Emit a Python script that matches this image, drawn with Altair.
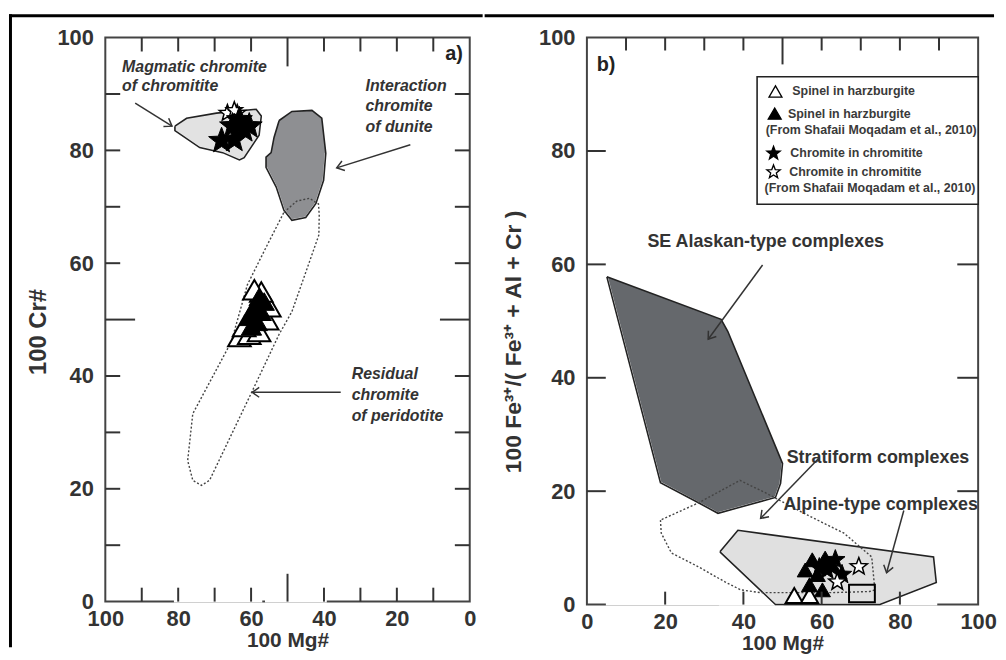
import math
import altair as alt
import pandas as pd

FONT = "Liberation Sans"
INK = "#333333"

# ---------------- panel a : 100 Cr# vs 100 Mg# ----------------
a_mag_x = [80.9, 77.7, 69.5, 58.6, 57.2, 57.8, 61.9, 63.2, 67.8, 74.1, 80.9, 80.9]
a_mag_y = [84.3, 85.7, 86.6, 87.3, 86.1, 82.7, 78.7, 78.3, 79.6, 80.5, 83.5, 84.3]
a_dun_x = [52.3, 48.8, 43.3, 40.6, 39.5, 40.1, 42.2, 45.0, 48.8, 51.0, 53.1, 55.9, 55.9, 54.5, 53.7, 52.3]
a_dun_y = [85.3, 86.9, 87.1, 85.7, 79.5, 74.7, 70.6, 68.1, 67.6, 69.4, 73.5, 77.0, 78.8, 79.6, 82.3, 85.3]
a_res_x = [51.0, 47.5, 44.0, 41.5, 41.3, 41.4, 48.8, 52.3, 59.7, 71.4, 73.6, 76.0, 77.4, 76.0, 65.4, 61.0, 55.9, 51.0]
a_res_y = [69.0, 71.0, 71.5, 70.5, 68.5, 65.0, 51.4, 47.4, 37.3, 21.5, 20.6, 21.5, 25.0, 33.3, 46.1, 56.2, 62.8, 69.0]
a_mag_up_x = [80.9, 77.7, 69.5, 58.6, 57.2]
a_mag_up_y = [84.3, 85.7, 86.6, 87.3, 86.1]
a_mag_lo_x = [80.9, 74.1, 67.8, 63.2, 61.9, 57.8, 57.2]
a_mag_lo_y = [83.5, 80.5, 79.6, 78.3, 78.7, 82.7, 86.1]
a_dun_up_x = [39.5, 40.6, 43.3, 48.8, 52.3, 53.7, 54.5, 55.9]
a_dun_up_y = [79.5, 85.7, 87.1, 86.9, 85.3, 82.3, 79.6, 78.8]
a_dun_lo_x = [39.5, 40.1, 42.2, 45.0, 48.8, 51.0, 53.1, 55.9]
a_dun_lo_y = [79.5, 74.7, 70.6, 68.1, 67.6, 69.4, 73.5, 77.0]

a_star_x = [68.1, 64.6, 61.9, 65.1, 60.5, 63.2]
a_star_y = [81.7, 81.9, 83.6, 84.3, 84.3, 85.4]
a_ostar_x = [66.5, 63.8, 64.6]
a_ostar_y = [86.6, 86.6, 87.1]
a_otri_x = [63.2, 60.5, 57.8, 61.9, 55.6, 55.0, 57.2, 59.1]
a_otri_y = [47.0, 47.4, 47.9, 48.8, 50.0, 52.3, 54.9, 55.3]
a_ftri_x = [57.8, 59.1, 57.2, 60.5, 58.3, 56.4, 59.9]
a_ftri_y = [54.0, 52.3, 51.4, 50.5, 49.6, 53.2, 48.8]

a_arrow_x1 = [91.8, 16.3, 35.4]
a_arrow_y1 = [88.4, 81.0, 37.1]
a_arrow_x2 = [81.7, 36.5, 59.7]
a_arrow_y2 = [84.3, 76.9, 37.1]

a_text = ["Magmatic chromite", "of chromitite", "Interaction", "chromite", "of dunite",
          "Residual", "chromite", "of peridotite"]
a_text_x = [95.4, 95.4, 28.6, 28.6, 28.6, 32.4, 32.4, 32.4]
a_text_y = [94.7, 91.4, 91.4, 87.9, 84.2, 40.3, 36.6, 32.9]

a_xlabels = [100, 80, 60, 40, 20, 0]
a_ylabels = [0, 20, 40, 60, 80, 100]
a_ticks_short = [10, 20, 30, 40, 60, 70, 80, 90]
a_ticks_long = [50]

# ---------------- panel b : Fe3+ ratio vs 100 Mg# ----------------
b_ala_x = [5.1, 34.3, 36.0, 50.0, 49.5, 48.2, 33.5, 28.4, 18.8, 5.1]
b_ala_y = [57.8, 50.3, 48.2, 24.9, 21.4, 18.9, 16.1, 18.0, 21.5, 57.8]
b_alp_x = [34.0, 38.6, 88.6, 89.3, 74.9, 48.2, 34.0]
b_alp_y = [9.3, 13.1, 8.4, 3.9, 0.0, 0.0, 9.3]
b_str_x = [18.8, 19.0, 21.6, 28.4, 35.3, 39.3, 44.4, 62.2, 72.3, 73.6, 72.8, 65.7, 56.3, 45.4, 39.1, 28.4, 18.8]
b_str_y = [14.9, 12.6, 9.1, 6.7, 4.0, 2.6, 2.1, 2.1, 2.3, 2.6, 8.4, 12.6, 15.8, 19.8, 21.9, 17.9, 14.9]
b_ala_up_x = [5.1, 34.3, 36.0, 50.0]
b_ala_up_y = [57.8, 50.3, 48.2, 24.9]
b_ala_lo_x = [5.1, 18.8, 28.4, 33.5, 48.2, 49.5, 50.0]
b_ala_lo_y = [57.8, 21.5, 18.0, 16.1, 18.9, 21.4, 24.9]
b_alp_up_x = [34.0, 38.6, 88.6, 89.3]
b_alp_up_y = [9.3, 13.1, 8.4, 3.9]
b_alp_lo_x = [34.0, 48.2, 74.9, 89.3]
b_alp_lo_y = [9.3, 0.0, 0.0, 3.9]

b_ftri_x = [55.8, 57.6, 60.9, 58.9, 56.9, 60.2, 62.7]
b_ftri_y = [6.1, 7.9, 8.2, 5.3, 3.5, 2.6, 7.0]
b_star_x = [63.5, 61.4, 65.2, 59.4]
b_star_y = [7.9, 6.1, 5.3, 6.5]
b_ostar_x = [69.5, 64.0]
b_ostar_y = [6.7, 4.0]
b_otri_x = [53.0, 56.9]
b_otri_y = [1.6, 1.6]
b_rect_x1 = [67.0]
b_rect_x2 = [73.6]
b_rect_y1 = [0.4]
b_rect_y2 = [3.5]

b_arrow_x1 = [44.9, 59.4, 81.0]
b_arrow_y1 = [59.9, 25.9, 16.6]
b_arrow_x2 = [31.0, 44.4, 76.6]
b_arrow_y2 = [46.8, 15.2, 5.6]

b_text = ["SE Alaskan-type complexes", "Stratiform complexes", "Alpine-type complexes"]
b_text_x = [45.7, 74.4, 75.1]
b_text_y = [63.9, 25.9, 17.5]

leg_box_x1, leg_box_x2, leg_box_y1, leg_box_y2 = [43.5], [100.0], [70.6], [93.1]
leg_sym_kind = ["otri", "ftri", "fstar", "ostar"]
leg_sym_x = [48.2, 48.0, 47.7, 47.7]
leg_sym_y = [90.5, 86.6, 79.6, 76.3]
leg_text = ["Spinel in harzburgite", "Spinel in harzburgite", "(From Shafaii Moqadam et al., 2010)",
            "Chromite in chromitite", "Chromite in chromitite", "(From Shafaii Moqadam et al., 2010)"]
leg_text_x = [52.5, 51.4, 45.7, 52.0, 51.7, 45.4]
leg_text_y = [90.5, 86.6, 83.7, 79.6, 76.3, 73.4]

b_labels = [0, 20, 40, 60, 80, 100]
b_top_short = [10, 20, 30, 40, 60, 70, 80, 90]
b_top_long = [50]
b_side_ticks = [20, 40, 60, 80]

W_A, H_A = 367, 568
W_B, H_B = 394, 571

# symbol outlines (unit coordinates)
_star_pts = []
for k in range(10):
    r = 1.0 if k % 2 == 0 else 0.42
    t = math.radians(-90 + 36 * k)
    _star_pts.append(f"{r * math.cos(t):.3f} {r * math.sin(t):.3f}")
STAR = "M " + " L ".join(_star_pts) + " Z"
CHEVRON = "M -1 -0.7 L 0 0 L -1 0.7"


def poly(xs, ys):
    return pd.DataFrame({"x": xs, "y": ys, "i": list(range(len(xs)))})


def pts(xs, ys):
    return pd.DataFrame({"x": xs, "y": ys})


def arrows(x1, y1, x2, y2, sx, sy):
    ang = []
    for a, b, c, d in zip(x1, y1, x2, y2):
        dx = (c - a) * sx
        dy = (d - b) * sy
        ang.append(math.degrees(math.atan2(dy, dx)) % 360)
    return pd.DataFrame({"x": x1, "y": y1, "x2": x2, "y2": y2, "ang": ang})


axis_common = dict(ticks=False, domain=False, grid=False, labelFlush=False, labelOverlap=False,
                   labelFont=FONT, labelFontSize=22, labelFontWeight="bold", labelColor=INK,
                   titleFont=FONT, titleFontWeight="bold", titleColor=INK)

tk = dict(stroke="#333", strokeWidth=2)


def fill_layers(X, Y, H, upx, upy, lox, loy, color):
    return [
        alt.Chart(pts(upx, upy)).mark_area(color=color, opacity=1)
        .encode(x=X(), y=Y(), y2=alt.value(H - 3)),
        alt.Chart(pts(lox, loy)).mark_area(color="white", stroke="white", strokeWidth=2, opacity=1)
        .encode(x=X(), y=Y(), y2=alt.value(H - 3)),
    ]


def outline(X, Y, xs, ys, dotted=False):
    if dotted:
        m = alt.Chart(poly(xs, ys)).mark_line(stroke="#444", strokeWidth=1.4, strokeDash=[2, 2])
    else:
        m = alt.Chart(poly(xs, ys)).mark_line(stroke="#222", strokeWidth=1.6)
    return m.encode(x=X(), y=Y(), order="i:Q")


def points(X, Y, xs, ys, shape, fill, size, sw):
    return alt.Chart(pts(xs, ys)).mark_point(shape=shape, filled=True, fill=fill, stroke="black",
                                             strokeWidth=sw, size=size, opacity=1).encode(x=X(), y=Y())


def arrow_layers(X, Y, df):
    return [
        alt.Chart(df).mark_rule(stroke=INK, strokeWidth=1.5).encode(x=X(), y=Y(), x2="x2:Q", y2="y2:Q"),
        alt.Chart(df).mark_point(shape=CHEVRON, filled=False, stroke=INK, strokeWidth=1.5,
                                 size=200, opacity=1)
        .encode(x=X("x2"), y=Y("y2"), angle=alt.Angle("ang:Q", scale=None)),
    ]


def frame_bar(x1, x2, y1, y2):
    return (alt.Chart(pd.DataFrame({"k": [0]})).mark_rect(fill="black")
            .encode(x=alt.value(x1), x2=alt.value(x2), y=alt.value(y1), y2=alt.value(y2)))


# ---------- panel a ----------
xa = alt.Scale(domain=[100, 0], nice=False, zero=False)
ya = alt.Scale(domain=[0, 100], nice=False, zero=False)
ax_xa = alt.Axis(values=a_xlabels, labelPadding=7, titlePadding=0, titleFontSize=21, **axis_common)
ax_ya = alt.Axis(values=a_ylabels, labelPadding=12, titleFontSize=24, titleX=-67, titleY=296,
                 titleAngle=270, titleAlign="center", titleBaseline="middle", **axis_common)


def XA(f="x"):
    return alt.X(f"{f}:Q", scale=xa, axis=ax_xa, title="100 Mg#")


def YA(f="y"):
    return alt.Y(f"{f}:Q", scale=ya, axis=ax_ya, title="100 Cr#")


a_layers = []
a_layers += fill_layers(XA, YA, H_A, a_mag_up_x, a_mag_up_y, a_mag_lo_x, a_mag_lo_y, "#e2e2e2")
a_layers += fill_layers(XA, YA, H_A, a_dun_up_x, a_dun_up_y, a_dun_lo_x, a_dun_lo_y, "#8e8f92")
a_layers.append(outline(XA, YA, a_mag_x, a_mag_y))
a_layers.append(outline(XA, YA, a_dun_x, a_dun_y))
a_layers.append(outline(XA, YA, a_res_x, a_res_y, dotted=True))
a_layers.append(points(XA, YA, a_otri_x, a_otri_y, "triangle-up", "white", 520, 2))
a_layers.append(points(XA, YA, a_ftri_x, a_ftri_y, "triangle-up", "black", 420, 1))
a_layers.append(points(XA, YA, a_ostar_x, a_ostar_y, STAR, "white", 300, 1.5))
a_layers.append(points(XA, YA, a_star_x, a_star_y, STAR, "black", 750, 1))
a_layers += arrow_layers(XA, YA, arrows(a_arrow_x1, a_arrow_y1, a_arrow_x2, a_arrow_y2, -W_A / 100, -H_A / 100))
a_layers.append(alt.Chart(pd.DataFrame({"x": a_text_x, "y": a_text_y, "t": a_text})).mark_text(
    font=FONT, fontSize=16, fontWeight="bold", fontStyle="italic", align="left", baseline="middle", color=INK)
    .encode(x=XA(), y=YA(), text="t:N"))
a_layers.append(alt.Chart(pd.DataFrame({"x": [1.9], "y": [97.0], "t": ["a)"]})).mark_text(
    font=FONT, fontSize=20, fontWeight="bold", align="right", baseline="middle", color="#222")
    .encode(x=XA(), y=YA(), text="t:N"))
a_layers.append(alt.Chart(pd.DataFrame({"x": a_ticks_short})).mark_rule(**tk)
                .encode(x=XA(), y=alt.value(0), y2=alt.value(14)))
a_layers.append(alt.Chart(pd.DataFrame({"x": a_ticks_short})).mark_rule(**tk)
                .encode(x=XA(), y=alt.value(H_A), y2=alt.value(H_A - 14)))
a_layers.append(alt.Chart(pd.DataFrame({"x": a_ticks_long})).mark_rule(**tk)
                .encode(x=XA(), y=alt.value(0), y2=alt.value(29)))
a_layers.append(alt.Chart(pd.DataFrame({"x": a_ticks_long})).mark_rule(**tk)
                .encode(x=XA(), y=alt.value(H_A), y2=alt.value(H_A - 28)))
a_layers.append(alt.Chart(pd.DataFrame({"y": a_ticks_short})).mark_rule(**tk)
                .encode(y=YA(), x=alt.value(0), x2=alt.value(15)))
a_layers.append(alt.Chart(pd.DataFrame({"y": a_ticks_short})).mark_rule(**tk)
                .encode(y=YA(), x=alt.value(W_A), x2=alt.value(W_A - 15)))
a_layers.append(alt.Chart(pd.DataFrame({"y": a_ticks_long})).mark_rule(**tk)
                .encode(y=YA(), x=alt.value(0), x2=alt.value(30)))
a_layers.append(alt.Chart(pd.DataFrame({"y": a_ticks_long})).mark_rule(**tk)
                .encode(y=YA(), x=alt.value(W_A), x2=alt.value(W_A - 30)))
# outer figure frame (left edge, left part of top edge)
a_layers.append(frame_bar(-97, -94, -23.5, 614))
a_layers.append(frame_bar(-97, 380, -23.5, -20.5))

panel_a = alt.layer(*a_layers).properties(width=W_A, height=H_A)

# ---------- panel b ----------
xb = alt.Scale(domain=[0, 100], nice=False, zero=False)
yb = alt.Scale(domain=[0, 100], nice=False, zero=False)
ax_xb = alt.Axis(values=b_labels, labelPadding=7, titlePadding=0, titleFontSize=21, **axis_common)
ax_yb = alt.Axis(values=b_labels, labelPadding=12, titleFontSize=23, titleX=-74, titleY=306,
                 titleAngle=270, titleAlign="center", titleBaseline="middle", **axis_common)


def XB(f="x"):
    return alt.X(f"{f}:Q", scale=xb, axis=ax_xb, title="100 Mg#")


def YB(f="y"):
    return alt.Y(f"{f}:Q", scale=yb, axis=ax_yb, title="100 Fe³⁺/( Fe³⁺ + Al + Cr )")


b_layers = []
b_layers += fill_layers(XB, YB, H_B, b_ala_up_x, b_ala_up_y, b_ala_lo_x, b_ala_lo_y, "#65686c")
b_layers += fill_layers(XB, YB, H_B, b_alp_up_x, b_alp_up_y, b_alp_lo_x, b_alp_lo_y, "#e0e0e0")
b_layers.append(outline(XB, YB, b_alp_x, b_alp_y))
b_layers.append(outline(XB, YB, b_ala_x, b_ala_y))
b_layers.append(outline(XB, YB, b_str_x, b_str_y, dotted=True))
b_layers.append(alt.Chart(pd.DataFrame({"x": b_rect_x1, "x2": b_rect_x2, "y": b_rect_y1, "y2": b_rect_y2}))
                .mark_rect(fill="white", fillOpacity=0, stroke="black", strokeWidth=2)
                .encode(x=XB(), x2="x2:Q", y=YB(), y2="y2:Q"))
b_layers.append(points(XB, YB, b_otri_x, b_otri_y, "triangle-up", "white", 300, 2))
b_layers.append(points(XB, YB, b_ftri_x, b_ftri_y, "triangle-up", "black", 260, 1))
b_layers.append(points(XB, YB, b_star_x, b_star_y, STAR, "black", 420, 1))
b_layers.append(points(XB, YB, b_ostar_x, b_ostar_y, STAR, "white", 330, 1.5))
b_layers += arrow_layers(XB, YB, arrows(b_arrow_x1, b_arrow_y1, b_arrow_x2, b_arrow_y2, W_B / 100, -H_B / 100))
b_layers.append(alt.Chart(pd.DataFrame({"x": b_text_x, "y": b_text_y, "t": b_text})).mark_text(
    font=FONT, fontSize=18, fontWeight="bold", align="center", baseline="middle", color=INK)
    .encode(x=XB(), y=YB(), text="t:N"))
b_layers.append(alt.Chart(pd.DataFrame({"x": [2.5], "y": [95.1], "t": ["b)"]})).mark_text(
    font=FONT, fontSize=20, fontWeight="bold", align="left", baseline="middle", color="#222")
    .encode(x=XB(), y=YB(), text="t:N"))
b_layers.append(alt.Chart(pd.DataFrame({"x": b_top_short})).mark_rule(**tk)
                .encode(x=XB(), y=alt.value(0), y2=alt.value(13)))
b_layers.append(alt.Chart(pd.DataFrame({"x": b_top_long})).mark_rule(**tk)
                .encode(x=XB(), y=alt.value(0), y2=alt.value(27)))
b_layers.append(alt.Chart(pd.DataFrame({"x": b_side_ticks})).mark_rule(**tk)
                .encode(x=XB(), y=alt.value(H_B), y2=alt.value(H_B - 13)))
b_layers.append(alt.Chart(pd.DataFrame({"y": b_side_ticks})).mark_rule(**tk)
                .encode(y=YB(), x=alt.value(0), x2=alt.value(19)))
b_layers.append(alt.Chart(pd.DataFrame({"y": b_side_ticks})).mark_rule(**tk)
                .encode(y=YB(), x=alt.value(W_B), x2=alt.value(W_B - 21)))
b_layers.append(alt.Chart(pd.DataFrame({"x": leg_box_x1, "x2": leg_box_x2, "y": leg_box_y1, "y2": leg_box_y2}))
                .mark_rect(fill="white", stroke="#222", strokeWidth=1.6)
                .encode(x=XB(), x2="x2:Q", y=YB(), y2="y2:Q"))
leg_df = pd.DataFrame({"x": leg_sym_x, "y": leg_sym_y, "k": leg_sym_kind})
for kind, shape, fill, size in [("otri", "triangle-up", "white", 170), ("ftri", "triangle-up", "black", 170),
                                ("fstar", STAR, "black", 200), ("ostar", STAR, "white", 200)]:
    sub = leg_df[leg_df.k == kind]
    b_layers.append(points(XB, YB, list(sub.x), list(sub.y), shape, fill, size, 1.3))
b_layers.append(alt.Chart(pd.DataFrame({"x": leg_text_x, "y": leg_text_y, "t": leg_text})).mark_text(
    font=FONT, fontSize=12.5, fontWeight="bold", align="left", baseline="middle", color="#3a3a3a")
    .encode(x=XB(), y=YB(), text="t:N"))
# outer figure frame (right part of top edge)
b_layers.append(frame_bar(-103, 410, -23.5, -20.5))

panel_b = alt.layer(*b_layers).properties(width=W_B, height=H_B)

chart = (
    alt.hconcat(panel_a, panel_b, spacing=0)
    .properties(padding={"left": 0, "top": 2.5, "right": 0, "bottom": 0})
    .configure(font=FONT)
    .configure_view(stroke="#444", strokeWidth=2)
)

chart.save("out.html", embed_options={"renderer": "svg", "actions": False})
